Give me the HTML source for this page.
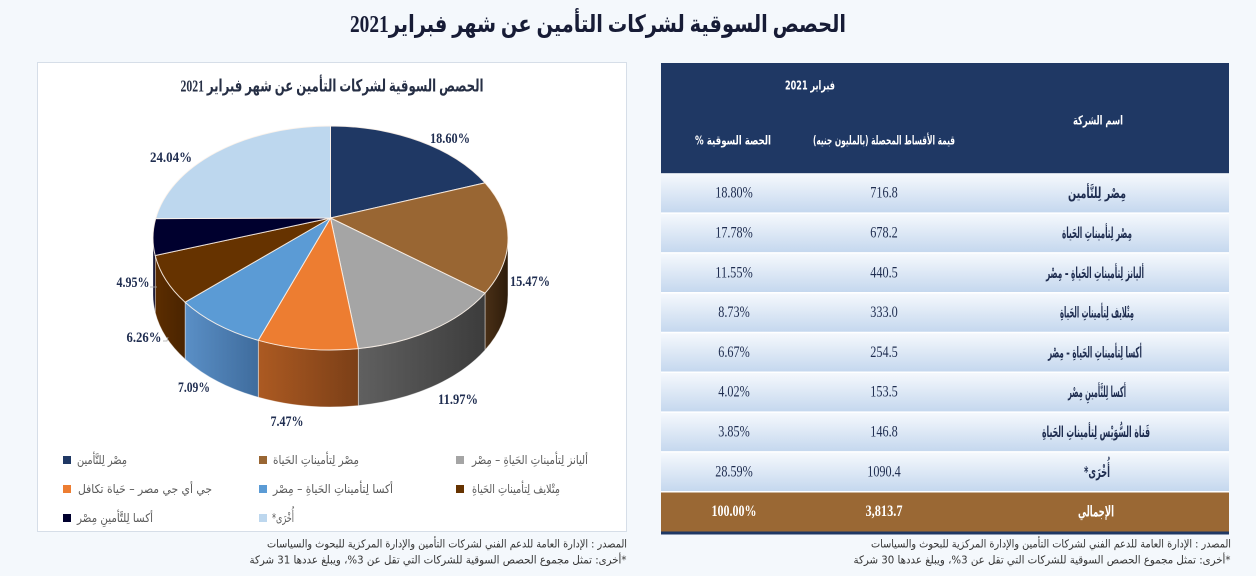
<!DOCTYPE html>
<html><head><meta charset="utf-8"><style>
html,body{margin:0;padding:0;background:#f4f8fc;}
svg{display:block}
</style></head><body>
<svg width="1256" height="576" viewBox="0 0 1256 576" xmlns="http://www.w3.org/2000/svg">
<defs>
<linearGradient id="rowg" x1="0" y1="0" x2="0" y2="1"><stop offset="0" stop-color="#f6f9fd"/><stop offset="1" stop-color="#c4d7ee"/></linearGradient>
<linearGradient id="sBrown" x1="0" y1="0" x2="1" y2="0"><stop offset="0" stop-color="#4a3017"/><stop offset="1" stop-color="#2e1c0a"/></linearGradient>
<linearGradient id="sGray" x1="0" y1="0" x2="1" y2="0"><stop offset="0" stop-color="#606060"/><stop offset="1" stop-color="#3c3c3c"/></linearGradient>
<linearGradient id="sOrange" x1="0" y1="0" x2="1" y2="0"><stop offset="0" stop-color="#ac5a22"/><stop offset="1" stop-color="#7b3f17"/></linearGradient>
<linearGradient id="sBlue" x1="0" y1="0" x2="1" y2="0"><stop offset="0" stop-color="#5a8fc6"/><stop offset="1" stop-color="#3f6c9d"/></linearGradient>
<linearGradient id="sDBrown" x1="0" y1="0" x2="1" y2="0"><stop offset="0" stop-color="#5c2d00"/><stop offset="1" stop-color="#4a2400"/></linearGradient>
</defs>
<rect width="1256" height="576" fill="#f4f8fc"/>

<!-- Main title -->
<text x="598" y="25" text-anchor="middle" dominant-baseline="central" direction="rtl" font-family="Liberation Serif, DejaVu Sans, serif" font-weight="bold" font-size="24" fill="#171c36" textLength="496" lengthAdjust="spacingAndGlyphs">الحصص السوقية لشركات التأمين عن شهر فبراير2021</text>

<!-- Chart box -->
<rect x="37.5" y="62.5" width="589" height="469" fill="#ffffff" stroke="#d6dee8" stroke-width="1"/>
<text x="332" y="86" text-anchor="middle" dominant-baseline="central" direction="rtl" font-family="Liberation Serif, DejaVu Sans, serif" font-weight="bold" font-size="17" fill="#262f45" textLength="303" lengthAdjust="spacingAndGlyphs">الحصص السوقية لشركات التأمين عن شهر فبراير 2021</text>

<!-- Pie side walls -->
<g stroke="rgba(255,255,255,0.55)" stroke-width="0.8">
<path d="M508,238 A177.5,112 0 0 1 485,293.15 L485,350.15 A177.5,112 0 0 0 508,295 Z" fill="url(#sBrown)"/>
<path d="M485,293.15 A177.5,112 0 0 1 358.3,348.6 L358.3,405.6 A177.5,112 0 0 0 485,350.15 Z" fill="url(#sGray)"/>
<path d="M358.3,348.6 A177.5,112 0 0 1 258.3,340.3 L258.3,397.3 A177.5,112 0 0 0 358.3,405.6 Z" fill="url(#sOrange)"/>
<path d="M258.3,340.3 A177.5,112 0 0 1 185.1,302.2 L185.1,359.2 A177.5,112 0 0 0 258.3,397.3 Z" fill="url(#sBlue)"/>
<path d="M185.1,302.2 A177.5,112 0 0 1 155.2,255.5 L155.2,312.5 A177.5,112 0 0 0 185.1,359.2 Z" fill="url(#sDBrown)"/>
<path d="M155.2,255.5 A177.5,112 0 0 1 153,238 L153,295 A177.5,112 0 0 0 155.2,312.5 Z" fill="#000022"/>
</g>
<!-- Pie top -->
<g stroke="rgba(255,245,235,0.85)" stroke-width="1">
<path d="M330.5,218 L330.5,126 A177.5,112 0 0 1 485,182.85 Z" fill="#1f3864"/>
<path d="M330.5,218 L485,182.85 A177.5,112 0 0 1 485,293.15 Z" fill="#996633"/>
<path d="M330.5,218 L485,293.15 A177.5,112 0 0 1 358.3,348.6 Z" fill="#a5a5a5"/>
<path d="M330.5,218 L358.3,348.6 A177.5,112 0 0 1 258.3,340.3 Z" fill="#ed7d31"/>
<path d="M330.5,218 L258.3,340.3 A177.5,112 0 0 1 185.1,302.2 Z" fill="#5b9bd5"/>
<path d="M330.5,218 L185.1,302.2 A177.5,112 0 0 1 155.2,255.5 Z" fill="#663300"/>
<path d="M330.5,218 L155.2,255.5 A177.5,112 0 0 1 155.7,218.6 Z" fill="#00002e"/>
<path d="M330.5,218 L155.7,218.6 A177.5,112 0 0 1 330.5,126 Z" fill="#bdd7ee"/>
</g>
<!-- leader lines -->
<g stroke="#a6a6a6" stroke-width="0.8" fill="none">
<path d="M150,287 L157,287"/>
<path d="M163,341 L167,341 L168,337"/>
</g>
<!-- Pie labels -->
<g font-family="Liberation Serif, serif" font-weight="bold" font-size="15" fill="#1f2d50" text-anchor="middle" dominant-baseline="central">
<text x="450" y="139" textLength="40" lengthAdjust="spacingAndGlyphs">18.60%</text>
<text x="171" y="158" textLength="42" lengthAdjust="spacingAndGlyphs">24.04%</text>
<text x="530" y="282" textLength="40" lengthAdjust="spacingAndGlyphs">15.47%</text>
<text x="458" y="400" textLength="40" lengthAdjust="spacingAndGlyphs">11.97%</text>
<text x="287" y="422" textLength="33" lengthAdjust="spacingAndGlyphs">7.47%</text>
<text x="194" y="388" textLength="32" lengthAdjust="spacingAndGlyphs">7.09%</text>
<text x="144" y="338" textLength="35" lengthAdjust="spacingAndGlyphs">6.26%</text>
<text x="133" y="283" textLength="33" lengthAdjust="spacingAndGlyphs">4.95%</text>
</g>

<!-- Legend -->
<g>
<rect x="63" y="456" width="8" height="8" fill="#1f3864"/>
<rect x="259" y="456" width="8" height="8" fill="#996633"/>
<rect x="456" y="456" width="8" height="8" fill="#a5a5a5"/>
<rect x="63" y="485" width="8" height="8" fill="#ed7d31"/>
<rect x="259" y="485" width="8" height="8" fill="#5b9bd5"/>
<rect x="456" y="485" width="8" height="8" fill="#663300"/>
<rect x="63" y="514" width="8" height="8" fill="#00002e"/>
<rect x="259" y="514" width="8" height="8" fill="#bdd7ee"/>
</g>
<g font-family="DejaVu Sans, sans-serif" font-size="12" fill="#595959" text-anchor="middle" dominant-baseline="central" direction="rtl">
<text x="102" y="460" textLength="50" lengthAdjust="spacingAndGlyphs">مِصْر لِلتَّأمين</text>
<text x="316" y="460" textLength="86" lengthAdjust="spacingAndGlyphs">مِصْر لِتأميناتِ الحَياة</text>
<text x="530" y="460" textLength="116" lengthAdjust="spacingAndGlyphs">أليانز لِتأميناتِ الحَياةِ – مِصْر</text>
<text x="145" y="489" textLength="134" lengthAdjust="spacingAndGlyphs">جي أي جي مصر – حَياة تكافل</text>
<text x="333" y="489" textLength="120" lengthAdjust="spacingAndGlyphs">أكسا لِتأميناتِ الحَياةِ – مِصْر</text>
<text x="516" y="489" textLength="88" lengthAdjust="spacingAndGlyphs">مِتْلايف لِتأميناتِ الحَياةِ</text>
<text x="115" y="518" textLength="76" lengthAdjust="spacingAndGlyphs">أكسا لِلتَّأمينِ مِصْر</text>
<text x="283" y="518" textLength="22" lengthAdjust="spacingAndGlyphs">أُخْرَى*</text>
</g>

<!-- Sources -->
<g font-family="DejaVu Sans, sans-serif" font-size="11" fill="#333333" text-anchor="middle" dominant-baseline="central" direction="rtl">
<text x="447" y="544" textLength="360" lengthAdjust="spacingAndGlyphs">المصدر : الإدارة العامة للدعم الفني لشركات التأمين والإدارة المركزية للبحوث والسياسات</text>
<text x="438" y="560" textLength="377" lengthAdjust="spacingAndGlyphs">*أخرى: تمثل مجموع الحصص السوقية للشركات التي تقل عن 3%، ويبلغ عددها 31 شركة</text>
<text x="1051" y="544" textLength="360" lengthAdjust="spacingAndGlyphs">المصدر : الإدارة العامة للدعم الفني لشركات التأمين والإدارة المركزية للبحوث والسياسات</text>
<text x="1042" y="560" textLength="377" lengthAdjust="spacingAndGlyphs">*أخرى: تمثل مجموع الحصص السوقية للشركات التي تقل عن 3%، ويبلغ عددها 30 شركة</text>
</g>

<!-- Table header -->
<rect x="661" y="63" width="568" height="110.3" fill="#1f3864"/>
<g font-family="DejaVu Sans, sans-serif" font-weight="bold" font-size="12.5" fill="#ffffff" text-anchor="middle" dominant-baseline="central" direction="rtl">
<text x="810" y="85" textLength="50" lengthAdjust="spacingAndGlyphs">فبراير 2021</text>
<text x="1098" y="120" textLength="50" lengthAdjust="spacingAndGlyphs">اسم الشركة</text>
<text x="884" y="140" textLength="142" lengthAdjust="spacingAndGlyphs">قيمة الأقساط المحصلة (بالمليون جنيه)</text>
<text x="733" y="140" textLength="76" lengthAdjust="spacingAndGlyphs">الحصة السوقية %</text>
</g>

<!-- Table rows -->
<g>
<rect x="661" y="173.3" width="568" height="39.8" fill="url(#rowg)"/>
<rect x="661" y="213.1" width="568" height="39.8" fill="url(#rowg)"/>
<rect x="661" y="252.9" width="568" height="39.8" fill="url(#rowg)"/>
<rect x="661" y="292.7" width="568" height="39.8" fill="url(#rowg)"/>
<rect x="661" y="332.5" width="568" height="39.8" fill="url(#rowg)"/>
<rect x="661" y="372.3" width="568" height="39.8" fill="url(#rowg)"/>
<rect x="661" y="412.1" width="568" height="39.8" fill="url(#rowg)"/>
<rect x="661" y="451.9" width="568" height="39.8" fill="url(#rowg)"/>
<rect x="661" y="491.7" width="568" height="39.8" fill="#9a6834"/>
</g>
<g stroke="#ffffff" stroke-width="1.5">
<line x1="661" y1="213.1" x2="1229" y2="213.1"/>
<line x1="661" y1="252.9" x2="1229" y2="252.9"/>
<line x1="661" y1="292.7" x2="1229" y2="292.7"/>
<line x1="661" y1="332.5" x2="1229" y2="332.5"/>
<line x1="661" y1="372.3" x2="1229" y2="372.3"/>
<line x1="661" y1="412.1" x2="1229" y2="412.1"/>
<line x1="661" y1="451.9" x2="1229" y2="451.9"/>
<line x1="661" y1="491.7" x2="1229" y2="491.7"/>
</g>
<rect x="661" y="531.5" width="568" height="3" fill="#1f3864"/>

<!-- Percent / value columns -->
<g font-family="Liberation Serif, serif" font-size="16" fill="#1f2d50" text-anchor="middle" dominant-baseline="central">
<text x="734" y="193.2" textLength="37.5" lengthAdjust="spacingAndGlyphs">18.80%</text>
<text x="734" y="233.0" textLength="37.5" lengthAdjust="spacingAndGlyphs">17.78%</text>
<text x="734" y="272.8" textLength="37.5" lengthAdjust="spacingAndGlyphs">11.55%</text>
<text x="734" y="312.6" textLength="31.5" lengthAdjust="spacingAndGlyphs">8.73%</text>
<text x="734" y="352.4" textLength="31.5" lengthAdjust="spacingAndGlyphs">6.67%</text>
<text x="734" y="392.2" textLength="31.5" lengthAdjust="spacingAndGlyphs">4.02%</text>
<text x="734" y="432.0" textLength="31.5" lengthAdjust="spacingAndGlyphs">3.85%</text>
<text x="734" y="471.8" textLength="37.5" lengthAdjust="spacingAndGlyphs">28.59%</text>
<text x="884" y="193.2" textLength="27.5" lengthAdjust="spacingAndGlyphs">716.8</text>
<text x="884" y="233.0" textLength="27.5" lengthAdjust="spacingAndGlyphs">678.2</text>
<text x="884" y="272.8" textLength="27.5" lengthAdjust="spacingAndGlyphs">440.5</text>
<text x="884" y="312.6" textLength="27.5" lengthAdjust="spacingAndGlyphs">333.0</text>
<text x="884" y="352.4" textLength="27.5" lengthAdjust="spacingAndGlyphs">254.5</text>
<text x="884" y="392.2" textLength="27.5" lengthAdjust="spacingAndGlyphs">153.5</text>
<text x="884" y="432.0" textLength="27.5" lengthAdjust="spacingAndGlyphs">146.8</text>
<text x="884" y="471.8" textLength="33.5" lengthAdjust="spacingAndGlyphs">1090.4</text>
</g>
<g font-family="Liberation Serif, serif" font-weight="bold" font-size="16" fill="#ffffff" text-anchor="middle" dominant-baseline="central">
<text x="734" y="511.6" textLength="45" lengthAdjust="spacingAndGlyphs">100.00%</text>
<text x="884" y="511.6" textLength="37" lengthAdjust="spacingAndGlyphs">3,813.7</text>
</g>

<!-- Names -->
<g font-family="DejaVu Sans, sans-serif" font-weight="bold" font-size="15" fill="#1f2d50" text-anchor="middle" dominant-baseline="central" direction="rtl">
<text x="1097" y="193.2" textLength="58" lengthAdjust="spacingAndGlyphs">مِصْر لِلتَّأمين</text>
<text x="1097" y="233.0" textLength="70" lengthAdjust="spacingAndGlyphs">مِصْر لِتأميناتِ الحَياة</text>
<text x="1095" y="272.8" textLength="98" lengthAdjust="spacingAndGlyphs">أليانز لِتأميناتِ الحَياةِ – مِصْر</text>
<text x="1097" y="312.6" textLength="74" lengthAdjust="spacingAndGlyphs">مِتْلايف لِتأميناتِ الحَياةِ</text>
<text x="1095" y="352.4" textLength="94" lengthAdjust="spacingAndGlyphs">أكسا لِتأميناتِ الحَياةِ – مِصْر</text>
<text x="1097" y="392.2" textLength="58" lengthAdjust="spacingAndGlyphs">أكسا لِلتَّأمينِ مِصْر</text>
<text x="1096" y="432.0" textLength="108" lengthAdjust="spacingAndGlyphs">قَناة السُّوَيْس لِتأميناتِ الحَياةِ</text>
<text x="1097" y="471.8" textLength="26" lengthAdjust="spacingAndGlyphs">أُخْرَى*</text>
<text x="1096" y="511.6" textLength="36" lengthAdjust="spacingAndGlyphs" fill="#ffffff">الإجمالي</text>
</g>
</svg>
</body></html>
